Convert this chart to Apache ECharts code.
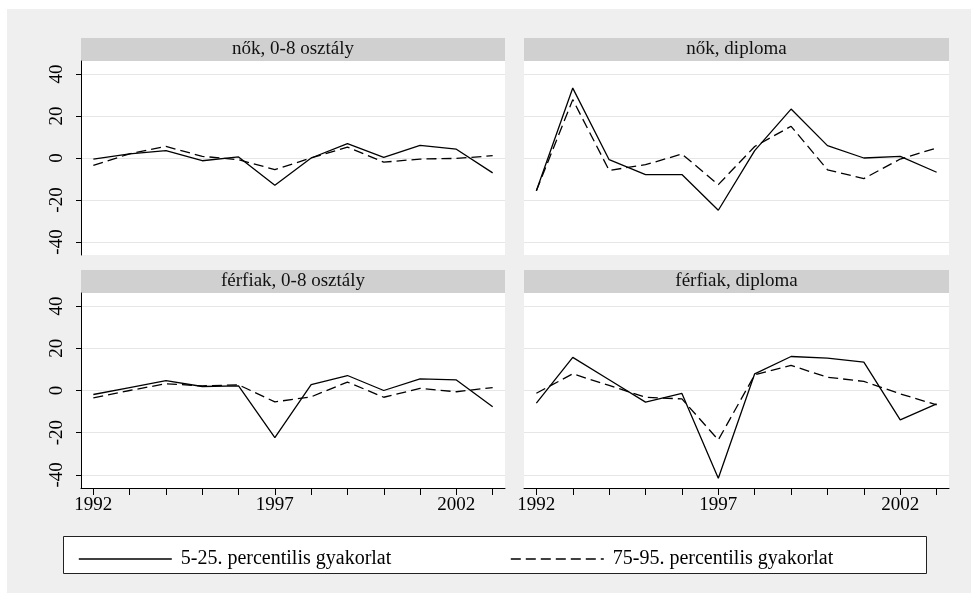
<!DOCTYPE html>
<html>
<head>
<meta charset="utf-8">
<script src="https://cdn.jsdelivr.net/npm/echarts@6/dist/echarts.min.js"></script>
<style>
html,body{margin:0;padding:0;background:#ffffff;}
#chart{position:absolute;left:7px;top:9px;width:964px;height:584px;background:#efefef;}
</style>
</head>
<body>
<div id="chart"></div>
<script>
// ---- data ----
var years = [1992,1993,1994,1995,1996,1997,1998,1999,2000,2001,2002,2003];
var yearLabels = [1992,1997,2002];
var yTicks = [-40,-20,0,20,40];
var panelTitles = ['nők, 0-8 osztály','nők, diploma','férfiak, 0-8 osztály','férfiak, diploma'];
var seriesNames = ['5-25. percentilis gyakorlat','75-95. percentilis gyakorlat'];

var nok08Low   = [-0.5, 2.0, 3.5, -1.3, 0.5, -13.0, 0.0, 6.8, 0.3, 6.0, 4.2, -7.1];
var nok08High  = [-3.5, 2.0, 5.5, 0.8, -0.8, -5.5, 0.0, 5.2, -2.0, -0.5, -0.2, 1.1];
var nokDipLow  = [-15.6, 33.3, -0.8, -7.9, -7.9, -24.9, 3.5, 23.3, 5.9, 0.0, 0.8, -6.8];
var nokDipHigh = [-15.6, 27.8, -5.9, -3.2, 1.9, -12.7, 5.5, 15.1, -5.6, -9.8, -0.5, 4.8];
var ffi08Low   = [-1.9, 1.4, 4.7, 1.9, 2.2, -22.3, 2.8, 7.1, 0.0, 5.5, 5.0, -7.7];
var ffi08High  = [-3.5, 0.0, 3.2, 2.2, 2.7, -5.4, -3.0, 4.0, -3.2, 1.0, -0.6, 1.4];
var ffiDipLow  = [-6.0, 15.7, 5.1, -5.5, -1.4, -41.6, 7.9, 16.1, 15.3, 13.4, -13.9, -6.3];
var ffiDipHigh = [-1.3, 7.9, 2.4, -3.2, -4.0, -23.4, 7.4, 11.9, 6.3, 4.3, -1.6, -6.8];

var panelData = [[nok08Low, nok08High],[nokDipLow, nokDipHigh],[ffi08Low, ffi08High],[ffiDipLow, ffiDipHigh]];

// ---- layout ----
var FONT = '"Liberation Serif","Times New Roman",serif';
var grids = [
  {left:74, top:52, width:424, height:194},
  {left:517, top:52, width:425, height:194},
  {left:74, top:284, width:424, height:195},
  {left:517, top:284, width:425, height:195}
];
var headerH = 23;

function pairs(vals){ return years.map(function(y,i){ return [y, vals[i]]; }); }

var option = {
  animation:false,
  backgroundColor:'#efefef',
  grid: grids.map(function(g){ return {left:g.left, top:g.top, width:g.width, height:g.height, show:true, backgroundColor:'#ffffff', borderWidth:0}; }),
  title: grids.map(function(g,i){
    return {text:panelTitles[i], left:g.left + g.width/2, top:g.top - headerH/2, padding:0,
      textAlign:'center', textVerticalAlign:'middle',
      textStyle:{fontFamily:FONT, fontSize:19, fontWeight:'normal', color:'#111'}};
  }),
  graphic: grids.map(function(g){
    return {type:'rect', left:g.left, top:g.top - headerH, z:0, silent:true,
      shape:{width:g.width, height:headerH}, style:{fill:'#d0d0d0'}};
  }).concat([
    {type:'rect', left:56, top:527, z:0, silent:true, shape:{width:863, height:37},
     style:{fill:'#ffffff', stroke:'#222', lineWidth:1}}
  ]),
  xAxis: grids.map(function(g,i){
    var bottom = i >= 2;
    return {gridIndex:i, type:'value', min:1991.66, max:2003.34,
      axisLine:{show:bottom, onZero:false, lineStyle:{color:'#000', width:1}},
      axisTick:{show:bottom, length:7, customValues:years, lineStyle:{color:'#000', width:1}},
      axisLabel:{show:bottom, customValues:yearLabels, formatter:function(v){ return String(v); },
        fontFamily:FONT, fontSize:19, color:'#000', margin:8},
      splitLine:{show:false}};
  }),
  yAxis: grids.map(function(g,i){
    var left = (i % 2) === 0;
    return {gridIndex:i, type:'value', min:-46.2, max:46.2,
      axisLine:{show:left, onZero:false, lineStyle:{color:'#000', width:1}},
      axisTick:{show:left, length:5, customValues:yTicks, lineStyle:{color:'#000', width:1}},
      axisLabel:{show:left, customValues:yTicks, rotate:90, fontFamily:FONT, fontSize:19, color:'#000', margin:14},
      splitLine:{show:true, lineStyle:{color:'#e6e6e6', width:1}}};
  }),
  legend: [
    {left:66, top:535, itemWidth:93, itemHeight:20, data:[seriesNames[0]], selectedMode:false,
     itemStyle:{opacity:0}, lineStyle:{width:1.6, opacity:1},
     textStyle:{fontFamily:FONT, fontSize:20, color:'#000', padding:[0,0,0,4]}},
    {left:498, top:535, itemWidth:93, itemHeight:20, data:[seriesNames[1]], selectedMode:false,
     itemStyle:{opacity:0}, lineStyle:{width:1.6, opacity:1},
     textStyle:{fontFamily:FONT, fontSize:20, color:'#000', padding:[0,0,0,4]}}
  ],
  series: []
};

panelData.forEach(function(pd, i){
  option.series.push({type:'line', name:seriesNames[0], xAxisIndex:i, yAxisIndex:i, data:pairs(pd[0]),
    symbol:'none', lineStyle:{color:'#000', width:1.3, type:'solid'}, itemStyle:{color:'#000'}});
  option.series.push({type:'line', name:seriesNames[1], xAxisIndex:i, yAxisIndex:i, data:pairs(pd[1]),
    symbol:'none', lineStyle:{color:'#000', width:1.3, type:[10,5]}, itemStyle:{color:'#000'}});
});

var chart = echarts.init(document.getElementById('chart'), null, {renderer:'canvas'});
chart.setOption(option);
</script>
</body>
</html>
